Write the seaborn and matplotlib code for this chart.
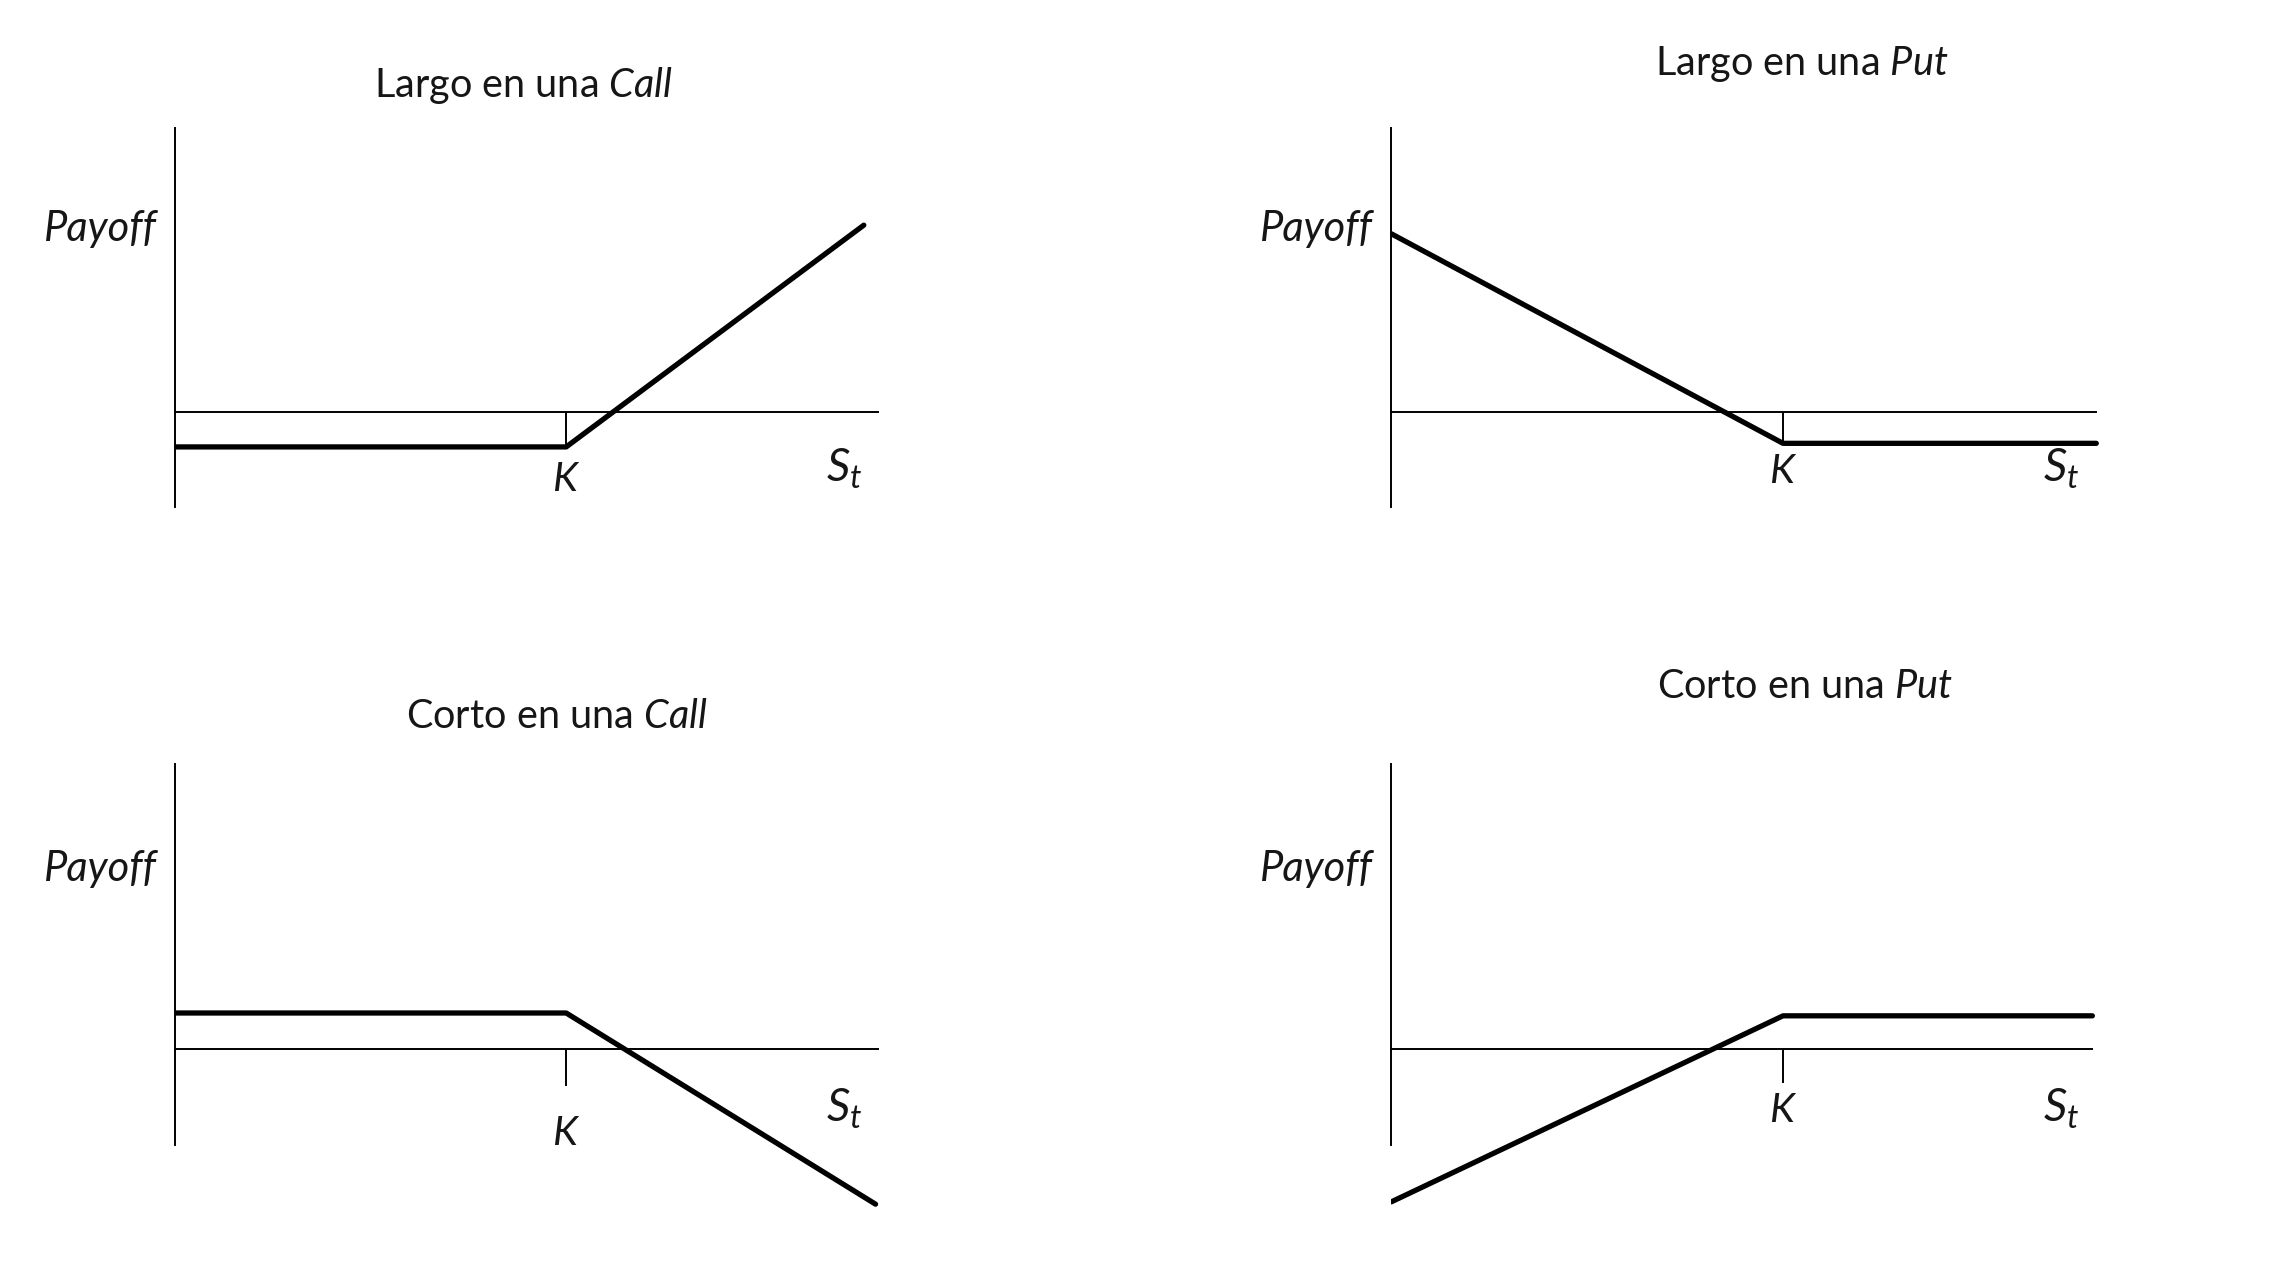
import numpy as np
import matplotlib
matplotlib.use("Agg")
import matplotlib.pyplot as plt
import seaborn as sns

# Payoff diagrams (stylized): strike, premium, and the three corner points of each line
titles = ["Largo en una $Call$", "Largo en una $Put$", "Corto en una $Call$", "Corto en una $Put$"]
strike = 100
premiums = [12, 15, 15, 18]
s_long_call = [0, 100, 176]
y_long_call = [-12, -12, 64]
s_long_put = [0, 100, 180]
y_long_put = [85, -15, -15]
s_short_call = [0, 100, 179]
y_short_call = [15, 15, -64]
s_short_put = [0, 100, 179]
y_short_put = [-82, 18, 18]
series = [(s_long_call, y_long_call), (s_long_put, y_long_put),
          (s_short_call, y_short_call), (s_short_put, y_short_put)]
axis_end = [179.5, 180, 179.5, 179]

sns.set_style("white")
plt.rcParams["font.family"] = ["Lato", "DejaVu Sans"]
plt.rcParams["mathtext.fontset"] = "custom"
plt.rcParams["mathtext.it"] = "Lato:italic"
plt.rcParams["mathtext.rm"] = "Lato"

W, H = 2282, 1276
fig = plt.figure(figsize=(W / 100, H / 100), dpi=100)

# layout in pixels (full size image)
x0_px = [174.6, 1391.4, 174.6, 1391.4]
zero_px = [411.9, 411.9, 1049.3, 1049.3]
top_px = [128, 128, 764, 764]
vbot_px = [506.5, 506.5, 1145.4, 1145.4]
yscale = [2.918, 2.095, 2.42, 1.86]
xscale = 3.916
title_pos = [(524, 86), (1802, 64), (557, 716), (1805, 687)]
k_off = [68, 60, 84.5, 61]
st_off = [57, 57, 60, 60]
payoff_off = [183, 183, 180, 180]
ink = "#161616"
px = 0.72  # px -> pt at 100 dpi

for i in range(4):
    left = x0_px[i]
    right = left + 181 * xscale
    top = top_px[i] - 10
    bottom = zero_px[i] + 175
    ax = fig.add_axes([left / W, 1 - bottom / H, (right - left) / W, (bottom - top) / H])
    ys = yscale[i]
    ax.set_xlim(0, 181)
    ax.set_ylim(-(bottom - zero_px[i]) / ys, (zero_px[i] - top) / ys)

    s, y = series[i]
    sns.lineplot(x=s, y=y, ax=ax, color="black", lw=3.8, sort=False)
    ax.vlines(strike, -premiums[i], 0, color="black", lw=1.4)

    for side in ["top", "right"]:
        ax.spines[side].set_visible(False)
    ax.spines["left"].set_position(("data", 0))
    ax.spines["bottom"].set_position(("data", 0))
    ax.spines["left"].set_bounds(-(vbot_px[i] - zero_px[i]) / ys, (zero_px[i] - top_px[i]) / ys)
    ax.spines["bottom"].set_bounds(0, axis_end[i])
    for sp in ["left", "bottom"]:
        ax.spines[sp].set_color("black")
        ax.spines[sp].set_linewidth(1.4)
    ax.set_xticks([])
    ax.set_yticks([])
    ax.patch.set_alpha(0)

    ax.annotate("Payoff", xy=(0, 0), xytext=(-18 * px, payoff_off[i] * px), textcoords="offset points",
                ha="right", va="center", fontsize=30, style="italic", color=ink, annotation_clip=False)
    ax.annotate("$K$", xy=(strike, 0), xytext=(0, -k_off[i] * px), textcoords="offset points",
                ha="center", va="center", fontsize=29, color=ink, annotation_clip=False)
    ax.annotate("$S_t$", xy=(171, 0), xytext=(0, -st_off[i] * px), textcoords="offset points",
                ha="center", va="center", fontsize=33, color=ink, annotation_clip=False)

    fig.text(title_pos[i][0] / W, 1 - title_pos[i][1] / H, titles[i], ha="center", va="center",
             fontsize=28.5, color=ink)

fig.savefig("out.png", dpi=100, facecolor="white")
